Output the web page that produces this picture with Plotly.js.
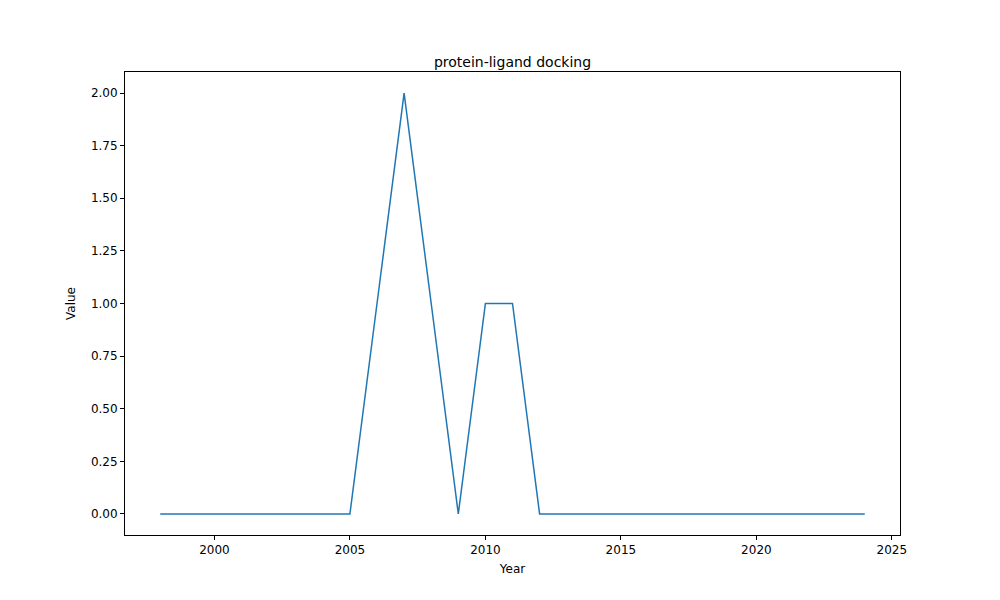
<!DOCTYPE html>
<html>
<head>
<script src="https://cdn.plot.ly/plotly-3.0.1.min.js"></script>
<style>body{margin:0}</style>
</head>
<body>
<div id="chart" style="width:1000px;height:600px"></div>
<script>
var years = []
for (var y = 1998; y <= 2024; y++) years.push(y)
var values = [0, 0, 0, 0, 0, 0, 0, 0, 1, 2, 1, 0, 1, 1, 0, 0, 0, 0, 0, 0, 0, 0, 0, 0, 0, 0, 0]

var axisStyle = {
    showgrid: false, zeroline: false, showline: true, mirror: true,
    linecolor: 'black', linewidth: 1, ticks: 'outside', ticklen: 4,
    tickcolor: 'black', tickfont: {size: 12, color: 'black'}
}

Plotly.newPlot('chart', [{
    x: years, y: values, mode: 'lines',
    line: {color: '#1f77b4', width: 1.5}
}], {
    width: 1000, height: 600,
    margin: {l: 125, r: 100, t: 72, b: 65},
    font: {family: 'DejaVu Sans', color: 'black'},
    title: {text: 'protein-ligand docking', font: {size: 14}, x: 0.5125, xref: 'container',
            y: 0.888, yref: 'container', yanchor: 'bottom'},
    xaxis: Object.assign({}, axisStyle, {
        range: [1996.7, 2025.3], tickvals: [2000, 2005, 2010, 2015, 2020, 2025],
        title: {text: 'Year', font: {size: 12}, standoff: 8}
    }),
    yaxis: Object.assign({}, axisStyle, {
        range: [-0.1, 2.1], tickvals: [0, 0.25, 0.5, 0.75, 1, 1.25, 1.5, 1.75, 2],
        tickformat: '.2f',
        title: {text: 'Value', font: {size: 12}, standoff: 12}
    }),
    plot_bgcolor: 'white', paper_bgcolor: 'white', showlegend: false
}, {displayModeBar: false})
</script>
</body>
</html>
